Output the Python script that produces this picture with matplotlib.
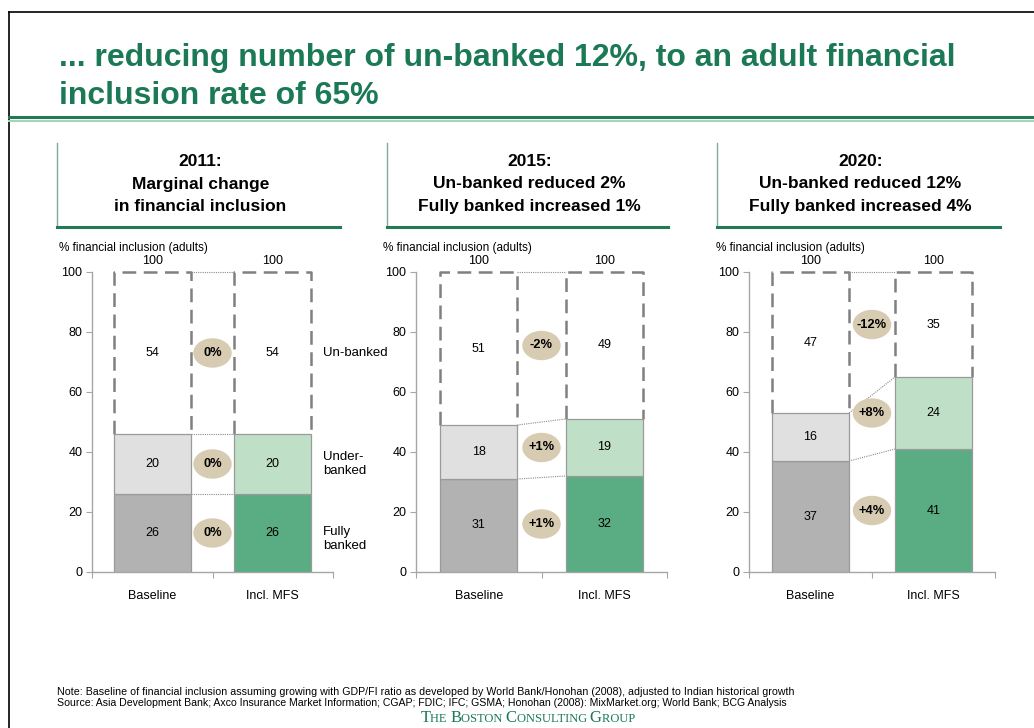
import matplotlib
matplotlib.use('Agg')
import matplotlib.pyplot as plt
from matplotlib.patches import Ellipse
from matplotlib.lines import Line2D

plt.rcParams['font.family'] = ['Liberation Sans', 'DejaVu Sans']

# ---- data ----
categories = ['Baseline', 'Incl. MFS']
panel_titles = ['2011:\nMarginal change\nin financial inclusion',
                '2015:\nUn-banked reduced 2%\nFully banked increased 1%',
                '2020:\nUn-banked reduced 12%\nFully banked increased 4%']
fully_banked = [[26, 26], [31, 32], [37, 41]]
under_banked = [[20, 20], [18, 19], [16, 24]]
un_banked = [[54, 54], [51, 49], [47, 35]]
change_fully = ['0%', '+1%', '+4%']
change_under = ['0%', '+1%', '+8%']
change_un = ['0%', '-2%', '-12%']
segment_names = ['Fully\nbanked', 'Under-\nbanked', 'Un-banked']
y_label = '% financial inclusion (adults)'
title = '... reducing number of un-banked 12%, to an adult financial\ninclusion rate of 65%'
note = ('Note: Baseline of financial inclusion assuming growing with GDP/FI ratio as developed by '
        'World Bank/Honohan (2008), adjusted to Indian historical growth')
source = ('Source: Asia Development Bank; Axco Insurance Market Information; CGAP; FDIC; IFC; GSMA; '
          'Honohan (2008): MixMarket.org; World Bank; BCG Analysis')

# ---- style ----
GREEN = '#1b7a55'
GREY_DARK = '#b2b2b2'
GREY_LIGHT = '#e0e0e0'
GREEN_DARK = '#5aad82'
GREEN_LIGHT = '#bfe0c6'
BUBBLE = '#d7cbb2'
EDGE = '#9a9a9a'
DASH = '#808080'

W, H = 1034, 728
fig = plt.figure(figsize=(W / 100, H / 100), dpi=100)


def fx(px):
    return px / W


def fy(py):
    return 1 - py / H


# frame + title
fig.add_artist(Line2D([fx(9), fx(9)], [0, fy(12)], color='black', lw=1.2))
fig.add_artist(Line2D([fx(9), 1], [fy(12), fy(12)], color='black', lw=1.2))
fig.text(fx(59), fy(77), title, color=GREEN, fontsize=23, fontweight='bold',
         va='center', linespacing=1.36)
fig.add_artist(Line2D([fx(9), 1], [fy(117), fy(117)], color='#237a57', lw=2.2))
fig.add_artist(Line2D([fx(9), 1], [fy(120.5), fy(120.5)], color='#a9d3b9', lw=1.5))

# panel geometry: axis left px, axis width px, header left/right px
axes_px = [(92, 241, 57, 340), (416, 251, 387, 668), (749, 246, 717, 1000)]
y0_px, y100_px = 572, 272

for p in range(3):
    left, width, hl, hr = axes_px[p]
    # header box
    fig.add_artist(Line2D([fx(hl), fx(hl)], [fy(143), fy(227)], color='#7fae98', lw=1))
    fig.add_artist(Line2D([fx(hl), fx(hr)], [fy(227), fy(227)], color='#237a57', lw=2.2))
    fig.text(fx((hl + hr) / 2 + 2), fy(184), panel_titles[p], ha='center', va='center',
             fontsize=12.5, fontweight='bold', linespacing=1.6)

    ax = fig.add_axes([fx(left), fy(y0_px), fx(width), (y0_px - y100_px) / H])
    ax.set_xlim(-0.5, 1.5)
    ax.set_ylim(0, 100)
    bw = 0.64 * 120.5 / (width / 2)
    x = [0, 1]
    fb = fully_banked[p]
    ub = under_banked[p]
    nb = un_banked[p]
    ax.bar(x, fb, bw, color=[GREY_DARK, GREEN_DARK], edgecolor=EDGE, lw=0.9, zorder=3)
    ax.bar(x, ub, bw, bottom=fb, color=[GREY_LIGHT, GREEN_LIGHT], edgecolor=EDGE, lw=0.9, zorder=3)
    for i in x:
        top = fb[i] + ub[i]
        xl, xr = i - bw / 2, i + bw / 2
        ax.plot([xl, xl, xr, xr], [top, top + nb[i], top + nb[i], top], color=DASH, lw=1.8,
                dashes=(5.5, 3), clip_on=False, zorder=2)
        ax.text(i, fb[i] / 2, str(fb[i]), ha='center', va='center', fontsize=9, zorder=4)
        ax.text(i, fb[i] + ub[i] / 2, str(ub[i]), ha='center', va='center', fontsize=9, zorder=4)
        ax.text(i, top + nb[i] / 2, str(nb[i]), ha='center', va='center', fontsize=9, zorder=4)
        ax.text(i, top + nb[i] + 1.5, str(top + nb[i]), ha='center', va='bottom', fontsize=9,
                clip_on=False)
    # dotted connectors
    for lvl in [(fb[0], fb[1]), (fb[0] + ub[0], fb[1] + ub[1]),
                (fb[0] + ub[0] + nb[0], fb[1] + ub[1] + nb[1])]:
        ax.plot([bw / 2, 1 - bw / 2], lvl, color='#8c8c8c', lw=0.8, ls=(0, (1, 1)),
                clip_on=False, zorder=2)

    # change bubbles, level with the MFS segment centres
    ew = 37 / (width / 2)
    eh = 28 / 3
    centres = [fb[1] / 2, fb[1] + ub[1] / 2, fb[1] + ub[1] + nb[1] / 2]
    labels = [change_fully[p], change_under[p], change_un[p]]
    for cy, lab in zip(centres, labels):
        ax.add_patch(Ellipse((0.5, cy), ew, eh, color=BUBBLE, zorder=4, clip_on=False))
        ax.text(0.5, cy, lab, ha='center', va='center', fontsize=9.3, fontweight='bold', zorder=5)

    # segment names on first panel
    if p == 0:
        seg_y = [fb[1] / 2 - 2, fb[1] + ub[1] / 2, fb[1] + ub[1] + nb[1] / 2]
        for sy, name in zip(seg_y, segment_names):
            ax.text(1 + 0.64 / 2 + 0.1, sy, name, ha='left', va='center', fontsize=9.5,
                    linespacing=1.2, clip_on=False)

    # axes styling
    for s in ['top', 'right']:
        ax.spines[s].set_visible(False)
    for s in ['left', 'bottom']:
        ax.spines[s].set_color('#a6a6a6')
        ax.spines[s].set_linewidth(1)
    ax.set_yticks(range(0, 101, 20))
    ax.tick_params(axis='y', length=4, color='#a6a6a6', labelsize=9, pad=3)
    ax.set_xticks([-0.5, 0.5, 1.5])
    ax.set_xticklabels([])
    ax.tick_params(axis='x', which='major', length=4, color='#a6a6a6')
    ax.set_xticks([0, 1], minor=True)
    ax.set_xticklabels(categories, minor=True)
    ax.tick_params(axis='x', which='minor', length=0, labelsize=9, pad=13)
    ax.set_facecolor('none')
    ax.text(-33 / width, 1.0 + 24 / 300, y_label, transform=ax.transAxes, fontsize=8.5,
            ha='left', va='center')

# footnotes
fig.text(fx(57), fy(692), note, fontsize=7.7, va='center')
fig.text(fx(57), fy(703), source, fontsize=7.6, va='center')

# small caps company name
fig.canvas.draw()
renderer = fig.canvas.get_renderer()
pieces = []
for word in ['The', 'Boston', 'Consulting', 'Group']:
    pieces.append((word[0], 12))
    pieces.append((word[1:].upper() + ' ', 9))
objs = []
for txt, size in pieces:
    t = fig.text(0, fy(722), txt, fontsize=size, color=GREEN, family='Liberation Serif',
                 va='baseline')
    objs.append(t)
widths = [t.get_window_extent(renderer).width for t in objs]
xpos = 529 - sum(widths) / 2
for t, w in zip(objs, widths):
    t.set_x(fx(xpos))
    xpos += w

fig.savefig('out.png', dpi=100)
